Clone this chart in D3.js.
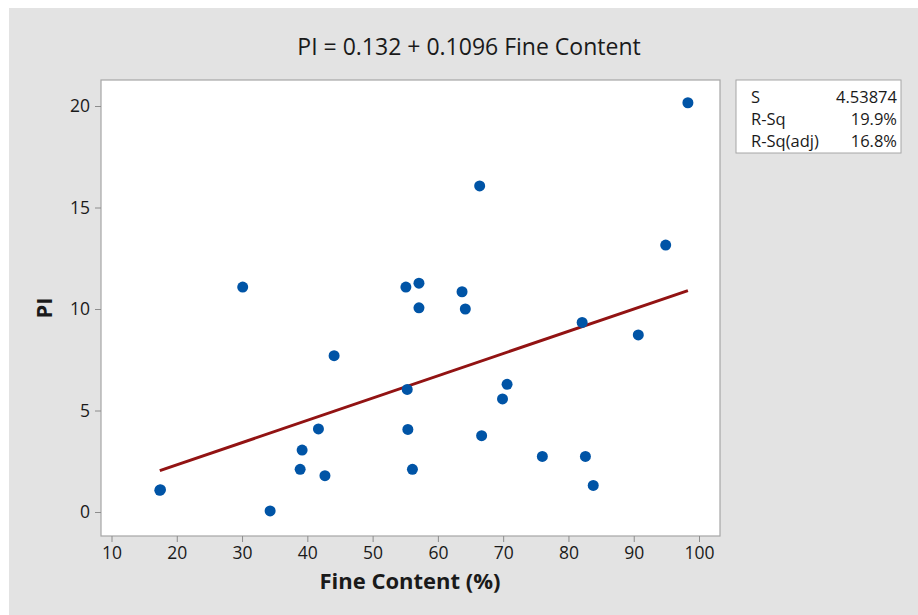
<!DOCTYPE html>
<html>
<head>
<meta charset="utf-8">
<script src="https://cdn.jsdelivr.net/npm/d3@7"></script>
<style>
  body { margin: 0; background: #fff; }
  text { font-family: "Open Sans", "Noto Sans", sans-serif; fill: #1a1a1a; }
</style>
</head>
<body>
<svg id="chart" width="918" height="615"></svg>
<script>
// Fine content (%) vs PI
const fineContent = [17.4, 17.5, 30.1, 34.3, 38.9, 39.2, 41.7, 42.7, 44.1, 55.1, 55.3, 55.4, 56.1, 57.1, 57.1,
  63.7, 64.2, 66.4, 66.7, 69.9, 70.6, 76.0, 82.1, 82.6, 83.8, 90.7, 94.9, 98.3];
const plasticityIndex = [1.07, 1.1, 11.08, 0.05, 2.1, 3.05, 4.09, 1.79, 7.7, 11.08, 6.04, 4.07, 2.1, 11.27, 10.06,
  10.85, 10.0, 16.06, 3.76, 5.57, 6.29, 2.74, 9.34, 2.74, 1.31, 8.72, 13.15, 20.16];

const intercept = 0.132;
const slope = 0.1096;
const xTicks = [10, 20, 30, 40, 50, 60, 70, 80, 90, 100];
const yTicks = [0, 5, 10, 15, 20];
const statLabels = ['S', 'R-Sq', 'R-Sq(adj)'];
const statValues = ['4.53874', '19.9%', '16.8%'];

const svg = d3.select('#chart');
const plot = { left: 101, right: 720, top: 80, bottom: 536 };

// grey panel
svg.append('rect')
  .attr('x', 9).attr('y', 8)
  .attr('width', 918 - 9).attr('height', 615 - 8)
  .attr('fill', '#e3e3e3');

const x = d3.scaleLinear().domain([10, 100]).range([111.5, 699]);
const y = d3.scaleLinear().domain([0, 20]).range([512, 106]);

svg.append('rect')
  .attr('x', plot.left).attr('y', plot.top)
  .attr('width', plot.right - plot.left).attr('height', plot.bottom - plot.top)
  .attr('fill', '#fff')
  .attr('stroke', '#a6a6a6')
  .attr('stroke-width', 1.2);

const xAxis = d3.axisBottom(x).tickValues(xTicks).tickSize(6).tickPadding(5);
const gx = svg.append('g')
  .attr('transform', `translate(0, ${plot.bottom})`)
  .call(xAxis);
gx.select('.domain').remove();
gx.selectAll('line').attr('stroke', '#8c8c8c');
gx.selectAll('text').style('font-size', '17.5px').attr('fill', '#1a1a1a');

const yAxis = d3.axisLeft(y).tickValues(yTicks).tickSize(6).tickPadding(5);
const gy = svg.append('g')
  .attr('transform', `translate(${plot.left}, 0)`)
  .call(yAxis);
gy.select('.domain').remove();
gy.selectAll('line').attr('stroke', '#8c8c8c');
gy.selectAll('text').style('font-size', '17.5px').attr('fill', '#1a1a1a');

// fitted line
const xMin = d3.min(fineContent);
const xMax = d3.max(fineContent);
const fit = d3.line()
  .x(d => x(d))
  .y(d => y(intercept + slope * d));
svg.append('path')
  .datum([xMin, xMax])
  .attr('fill', 'none')
  .attr('stroke', '#921313')
  .attr('stroke-width', 3)
  .attr('d', fit);

svg.append('g')
  .selectAll('circle')
  .data(fineContent)
  .join('circle')
  .attr('cx', d => x(d))
  .attr('cy', (d, i) => y(plasticityIndex[i]))
  .attr('r', 5.5)
  .attr('fill', '#0054a6');

// titles
svg.append('text')
  .attr('x', 469).attr('y', 55)
  .attr('text-anchor', 'middle')
  .style('font-size', '23px')
  .text('PI = 0.132 + 0.1096 Fine Content');

svg.append('text')
  .attr('x', 410).attr('y', 589)
  .attr('text-anchor', 'middle')
  .style('font-size', '22px')
  .style('font-weight', 'bold')
  .text('Fine Content (%)');

svg.append('text')
  .attr('transform', 'translate(52, 308) rotate(-90)')
  .attr('text-anchor', 'middle')
  .style('font-size', '22px')
  .style('font-weight', 'bold')
  .text('PI');

// stats box
svg.append('rect')
  .attr('x', 736).attr('y', 80)
  .attr('width', 165).attr('height', 73)
  .attr('fill', '#fff')
  .attr('stroke', '#a6a6a6');

const rows = svg.append('g').selectAll('g')
  .data(statLabels)
  .join('g')
  .attr('transform', (d, i) => `translate(0, ${103 + i * 22})`);
rows.append('text')
  .attr('x', 751)
  .style('font-size', '16.5px')
  .text(d => d);
rows.append('text')
  .attr('x', 897)
  .attr('text-anchor', 'end')
  .style('font-size', '16.5px')
  .text((d, i) => statValues[i]);
</script>
</body>
</html>
